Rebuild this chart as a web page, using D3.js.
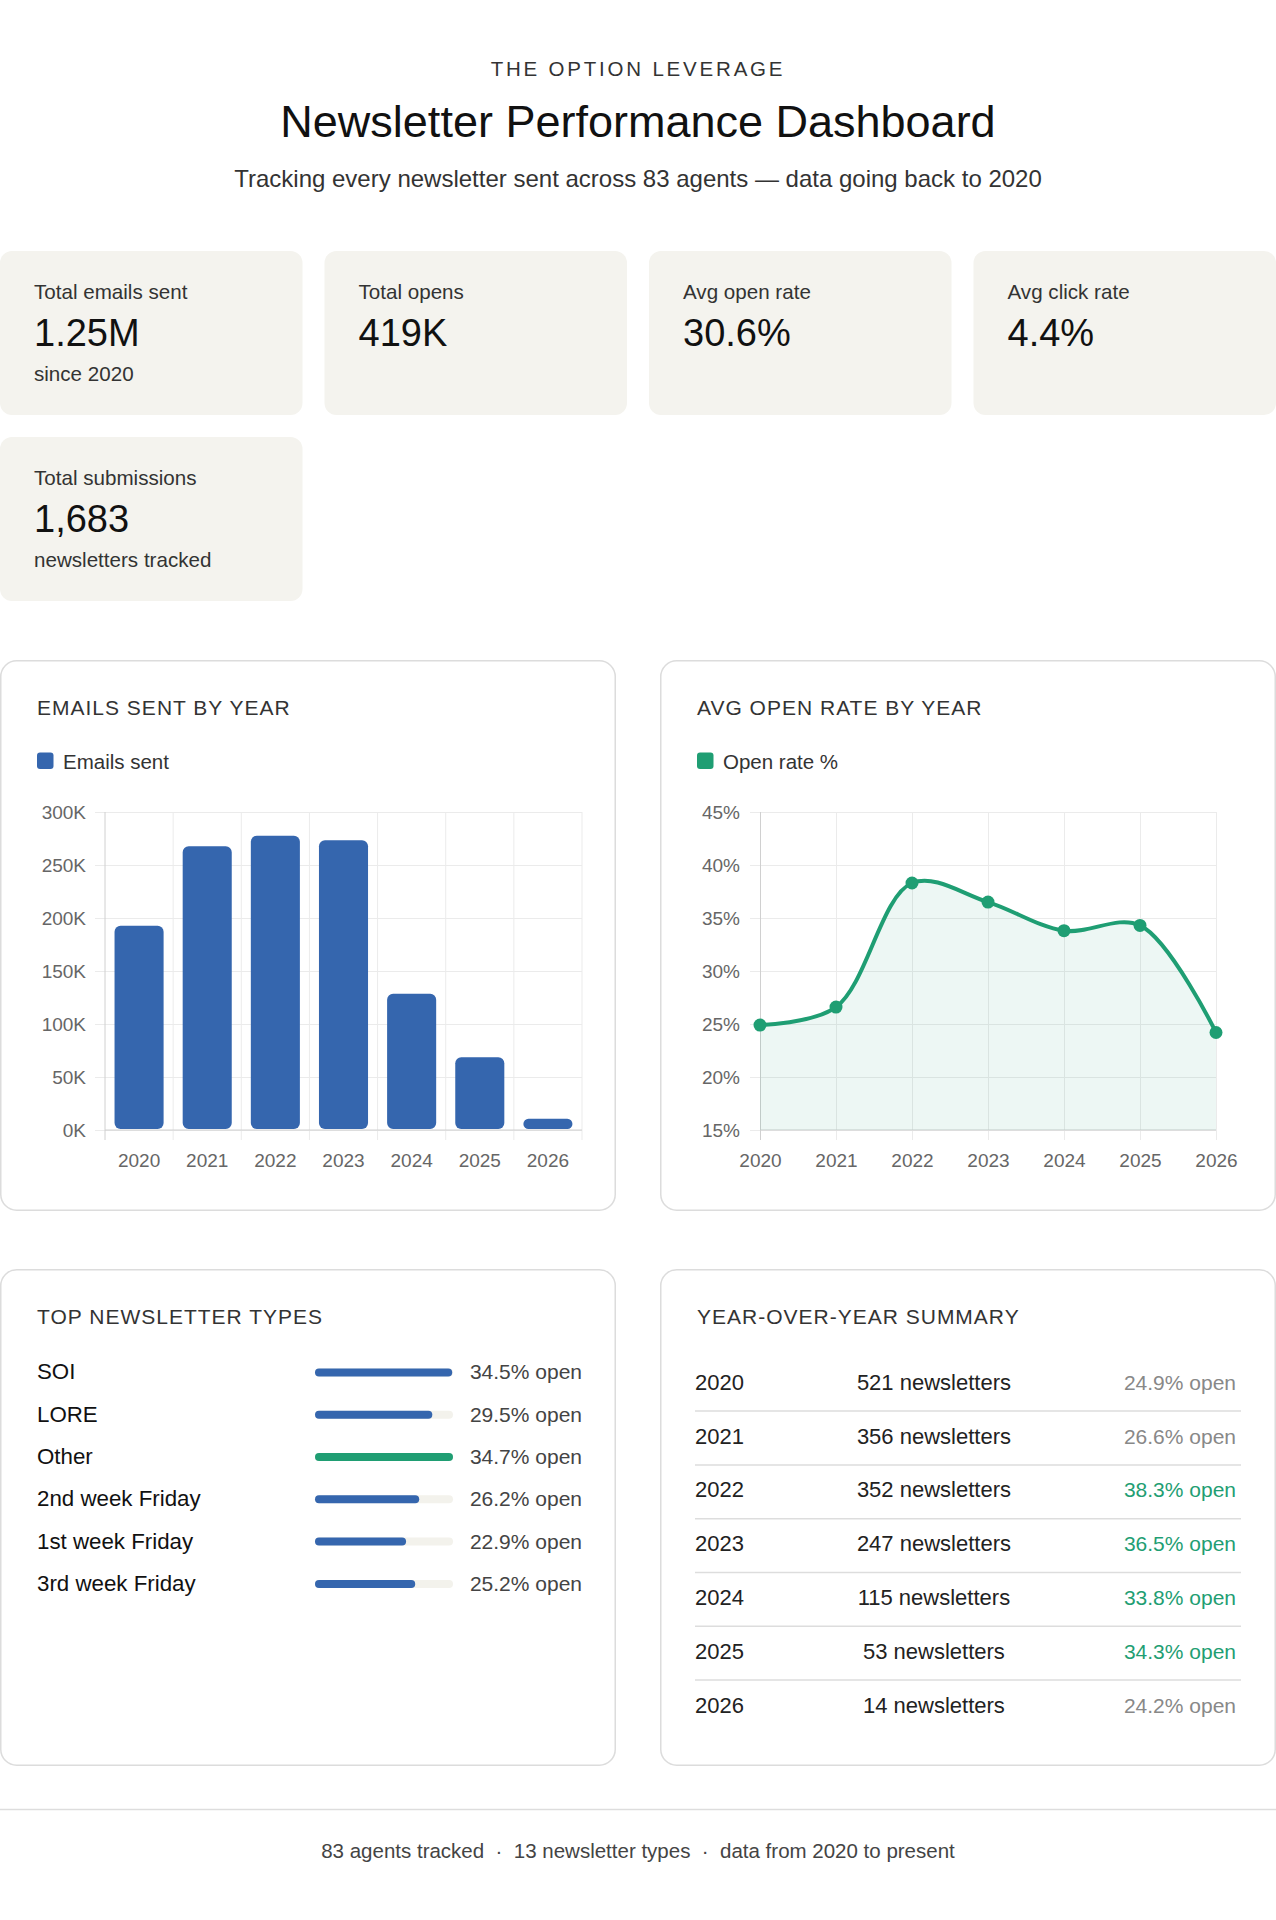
<!DOCTYPE html>
<html>
<head>
<meta charset="utf-8">
<script src="https://cdn.jsdelivr.net/npm/d3@7"></script>
<style>
  body { margin: 0; background: #fff; }
  svg text { font-family: "Liberation Sans", Arial, Helvetica, sans-serif; }
</style>
</head>
<body>
<div id="page"></div>
<script>
// ---- data ----
var kpiLabels = ["Total emails sent", "Total opens", "Avg open rate", "Avg click rate", "Total submissions"];
var kpiValues = ["1.25M", "419K", "30.6%", "4.4%", "1,683"];
var kpiNotes = ["since 2020", "", "", "", "newsletters tracked"];

var years = ["2020", "2021", "2022", "2023", "2024", "2025", "2026"];
var emailsSent = [192700, 267800, 277700, 273300, 128600, 68600, 10600];
var sentTicks = [0, 50000, 100000, 150000, 200000, 250000, 300000];
var openRates = [24.9, 26.6, 38.3, 36.5, 33.8, 34.3, 24.2];
var rateTicks = [15, 20, 25, 30, 35, 40, 45];
var newsletterCounts = [521, 356, 352, 247, 115, 53, 14];

var typeNames = ["SOI", "LORE", "Other", "2nd week Friday", "1st week Friday", "3rd week Friday"];
var typeOpenRates = [34.5, 29.5, 34.7, 26.2, 22.9, 25.2];

var footerParts = ["83 agents tracked", "13 newsletter types", "data from 2020 to present"];

// ---- style ----
var W = 1276, H = 1920;
var blue = "#3566ae", green = "#1f9e73";
var cream = "#f4f3ee";
var gridColor = "#ebebeb", axisColor = "#d0d0d0";

var svg = d3.select("#page").append("svg")
    .attr("width", W)
    .attr("height", H);

svg.append("rect").attr("width", W).attr("height", H).attr("fill", "#fff");

// header
svg.append("text")
    .attr("x", W / 2).attr("y", 76)
    .attr("text-anchor", "middle")
    .attr("font-size", "20.5px")
    .attr("letter-spacing", "2.8px")
    .attr("fill", "#333")
    .text("THE OPTION LEVERAGE");

svg.append("text")
    .attr("x", W / 2).attr("y", 137)
    .attr("text-anchor", "middle")
    .attr("font-size", "45px")
    .attr("fill", "#111")
    .text("Newsletter Performance Dashboard");

svg.append("text")
    .attr("x", W / 2).attr("y", 187)
    .attr("text-anchor", "middle")
    .attr("font-size", "24px")
    .attr("fill", "#333")
    .text("Tracking every newsletter sent across 83 agents \u2014 data going back to 2020");

// KPI cards
var cardGap = 22, cardW = (W - 3 * cardGap) / 4, cardH = 164;
kpiLabels.forEach(function(label, i) {
    var col = i % 4, row = Math.floor(i / 4);
    var cx = col * (cardW + cardGap), cy = 251 + row * (cardH + cardGap);
    var card = svg.append("g").attr("transform", "translate(" + cx + "," + cy + ")");
    card.append("rect")
        .attr("width", cardW).attr("height", cardH)
        .attr("rx", 12)
        .attr("fill", cream);
    card.append("text")
        .attr("x", 34).attr("y", 47.5)
        .attr("font-size", "20.6px").attr("fill", "#333")
        .text(label);
    card.append("text")
        .attr("x", 34).attr("y", 95)
        .attr("font-size", "38px").attr("fill", "#111")
        .text(kpiValues[i]);
    if (kpiNotes[i]) {
        card.append("text")
            .attr("x", 34).attr("y", 130)
            .attr("font-size", "20.6px").attr("fill", "#333")
            .text(kpiNotes[i]);
    }
});

// panel helper
function panel(x, y, w, h, title) {
    var g = svg.append("g").attr("transform", "translate(" + x + "," + y + ")");
    g.append("rect")
        .attr("x", 0.75).attr("y", 0.75)
        .attr("width", w - 1.5).attr("height", h - 1.5)
        .attr("rx", 16)
        .attr("fill", "#fff")
        .attr("stroke", "#dcdcdc")
        .attr("stroke-width", 1.5);
    g.append("text")
        .attr("x", 37).attr("y", 55)
        .attr("font-size", "21px")
        .attr("letter-spacing", "1px")
        .attr("fill", "#333")
        .text(title);
    return g;
}

function legend(g, color, label) {
    g.append("rect")
        .attr("x", 37).attr("y", 92.5)
        .attr("width", 16.5).attr("height", 16.5)
        .attr("rx", 3)
        .attr("fill", color);
    g.append("text")
        .attr("x", 63).attr("y", 108.5)
        .attr("font-size", "20.5px").attr("fill", "#333")
        .text(label);
}

var panelW = (W - 44) / 2;
var tickLen = 10;
var plotTop = 812, plotBottom = 1130;

// ---- Emails sent by year (bars) ----
var p1 = panel(0, 660, panelW, 551, "EMAILS SENT BY YEAR");
legend(p1, blue, "Emails sent");

var bx0 = 105, bx1 = 582;
var xBar = d3.scaleBand().domain(years).range([bx0, bx1]).paddingInner(0.28).paddingOuter(0.14);
var ySent = d3.scaleLinear().domain([0, 300000]).range([plotBottom, plotTop]);

var yAxisBar = svg.append("g")
    .attr("transform", "translate(" + (bx0 - tickLen) + ",0)")
    .call(d3.axisLeft(ySent)
        .tickValues(sentTicks)
        .tickSize(-(bx1 - bx0 + tickLen))
        .tickPadding(9)
        .tickFormat(function(d) { return (d / 1000) + "K"; }));
yAxisBar.select(".domain").remove();
yAxisBar.selectAll("line").attr("stroke", gridColor);
yAxisBar.selectAll("text").attr("font-size", "19px").attr("fill", "#666");

// vertical grid at category boundaries
var boundaries = years.map(function(d) { return xBar(d) - xBar.step() * xBar.paddingInner() / 2; });
boundaries.push(bx1);
svg.append("g").selectAll("line")
    .data(boundaries)
    .enter().append("line")
    .attr("x1", function(d) { return d; })
    .attr("x2", function(d) { return d; })
    .attr("y1", plotTop)
    .attr("y2", plotBottom + tickLen)
    .attr("stroke", function(d, i) { return i === 0 ? axisColor : gridColor; });

svg.append("line")
    .attr("x1", bx0).attr("x2", bx1)
    .attr("y1", plotBottom).attr("y2", plotBottom)
    .attr("stroke", axisColor);

var xAxisBar = svg.append("g")
    .attr("transform", "translate(0," + plotBottom + ")")
    .call(d3.axisBottom(xBar).tickSize(0).tickPadding(24));
xAxisBar.select(".domain").remove();
xAxisBar.selectAll("text").attr("font-size", "19px").attr("fill", "#666");

function roundedRect(x, y, w, h, r) {
    r = Math.min(r, h / 2, w / 2);
    return "M" + (x + r) + "," + y +
        "H" + (x + w - r) + "A" + r + "," + r + " 0 0 1 " + (x + w) + "," + (y + r) +
        "V" + (y + h - r) + "A" + r + "," + r + " 0 0 1 " + (x + w - r) + "," + (y + h) +
        "H" + (x + r) + "A" + r + "," + r + " 0 0 1 " + x + "," + (y + h - r) +
        "V" + (y + r) + "A" + r + "," + r + " 0 0 1 " + (x + r) + "," + y + "Z";
}

svg.append("g").selectAll("path")
    .data(emailsSent)
    .enter().append("path")
    .attr("fill", blue)
    .attr("d", function(d, i) {
        var top = ySent(d);
        return roundedRect(xBar(years[i]), top, xBar.bandwidth(), plotBottom - top - 1, 6);
    });

// ---- Avg open rate by year (line) ----
var p2 = panel(panelW + 44, 660, panelW, 551, "AVG OPEN RATE BY YEAR");
legend(p2, green, "Open rate %");

var lx0 = 760, lx1 = 1216;
var xLine = d3.scalePoint().domain(years).range([lx0, lx1]);
var yRate = d3.scaleLinear().domain([15, 45]).range([plotBottom, plotTop]);

var yAxisLine = svg.append("g")
    .attr("transform", "translate(" + (lx0 - tickLen) + ",0)")
    .call(d3.axisLeft(yRate)
        .tickValues(rateTicks)
        .tickSize(-(lx1 - lx0 + tickLen))
        .tickPadding(10)
        .tickFormat(function(d) { return d + "%"; }));
yAxisLine.select(".domain").remove();
yAxisLine.selectAll("line").attr("stroke", gridColor);
yAxisLine.selectAll("text").attr("font-size", "19px").attr("fill", "#666");

var xAxisLine = svg.append("g")
    .attr("transform", "translate(0," + plotBottom + ")")
    .call(d3.axisBottom(xLine).tickSize(-(plotBottom - plotTop)).tickPadding(24));
xAxisLine.select(".domain").remove();
xAxisLine.selectAll("line").attr("stroke", function(d, i) { return i === 0 ? axisColor : gridColor; })
    .attr("y2", -(plotBottom - plotTop)).attr("y1", tickLen);
xAxisLine.selectAll("text").attr("font-size", "19px").attr("fill", "#666").attr("y", 24);

svg.append("line")
    .attr("x1", lx0).attr("x2", lx1)
    .attr("y1", plotBottom).attr("y2", plotBottom)
    .attr("stroke", axisColor);

var curve = d3.curveCatmullRom.alpha(0.5);
var area = d3.area()
    .x(function(d, i) { return xLine(years[i]); })
    .y0(plotBottom)
    .y1(function(d) { return yRate(d); })
    .curve(curve);
var line = d3.line()
    .x(function(d, i) { return xLine(years[i]); })
    .y(function(d) { return yRate(d); })
    .curve(curve);

svg.append("path").datum(openRates)
    .attr("d", area)
    .attr("fill", green)
    .attr("fill-opacity", 0.08);
svg.append("path").datum(openRates)
    .attr("d", line)
    .attr("fill", "none")
    .attr("stroke", green)
    .attr("stroke-width", 4);
svg.append("g").selectAll("circle")
    .data(openRates)
    .enter().append("circle")
    .attr("cx", function(d, i) { return xLine(years[i]); })
    .attr("cy", function(d) { return yRate(d); })
    .attr("r", 6.5)
    .attr("fill", green);

// ---- Top newsletter types ----
var p3 = panel(0, 1269, panelW, 497, "TOP NEWSLETTER TYPES");
var typeScale = d3.scaleLinear().domain([0, d3.max(typeOpenRates)]).range([0, 138]);
var maxType = d3.max(typeOpenRates);

var typeRows = p3.selectAll(".type-row")
    .data(typeNames)
    .enter().append("g")
    .attr("class", "type-row")
    .attr("transform", function(d, i) { return "translate(0," + (110.4 + i * 42.3) + ")"; });

typeRows.append("text")
    .attr("x", 37)
    .attr("font-size", "22.3px").attr("fill", "#111")
    .text(function(d) { return d; });
typeRows.append("rect")
    .attr("x", 315).attr("y", -11)
    .attr("width", 138).attr("height", 8)
    .attr("rx", 4)
    .attr("fill", "#f3f2ec");
typeRows.append("rect")
    .attr("x", 315).attr("y", -11)
    .attr("width", function(d, i) { return typeScale(typeOpenRates[i]); })
    .attr("height", 8)
    .attr("rx", 4)
    .attr("fill", function(d, i) { return typeOpenRates[i] === maxType ? green : blue; });
typeRows.append("text")
    .attr("x", 582)
    .attr("text-anchor", "end")
    .attr("font-size", "21px").attr("fill", "#444")
    .text(function(d, i) { return typeOpenRates[i].toFixed(1) + "% open"; });

// ---- Year-over-year summary ----
var p4 = panel(panelW + 44, 1269, panelW, 497, "YEAR-OVER-YEAR SUMMARY");
var rowL = 35, rowR = 576;

var yoyRows = p4.selectAll(".yoy-row")
    .data(years)
    .enter().append("g")
    .attr("class", "yoy-row")
    .attr("transform", function(d, i) { return "translate(0," + (120.7 + i * 53.8) + ")"; });

yoyRows.each(function(year, i) {
    var row = d3.select(this);
    var yt = row.append("text")
        .attr("x", rowL)
        .attr("font-size", "22px").attr("fill", "#222")
        .text(year);
    var rt = row.append("text")
        .attr("x", rowR)
        .attr("text-anchor", "end")
        .attr("font-size", "21px")
        .attr("fill", openRates[i] >= 30 ? green : "#888")
        .text(openRates[i].toFixed(1) + "% open");
    var ct = row.append("text")
        .attr("font-size", "22px").attr("fill", "#222")
        .text(newsletterCounts[i] + " newsletters");
    // space-between layout
    var w1 = yt.node().getComputedTextLength();
    var w2 = ct.node().getComputedTextLength();
    var w3 = rt.node().getComputedTextLength();
    var gap = (rowR - rowL - w1 - w2 - w3) / 2;
    ct.attr("x", rowL + w1 + gap);
    if (i < years.length - 1) {
        row.append("line")
            .attr("x1", rowL).attr("x2", 581)
            .attr("y1", 21.4).attr("y2", 21.4)
            .attr("stroke", "#dddddd")
            .attr("stroke-width", 1.5);
    }
});

// ---- footer ----
svg.append("line")
    .attr("x1", 0).attr("x2", W)
    .attr("y1", 1809.5).attr("y2", 1809.5)
    .attr("stroke", "#dddddd")
    .attr("stroke-width", 1.5);

svg.append("text")
    .attr("x", W / 2).attr("y", 1858)
    .attr("text-anchor", "middle")
    .attr("font-size", "20.5px").attr("fill", "#444")
    .attr("xml:space", "preserve")
    .text(footerParts.join("  \u00b7  "));
</script>
</body>
</html>
